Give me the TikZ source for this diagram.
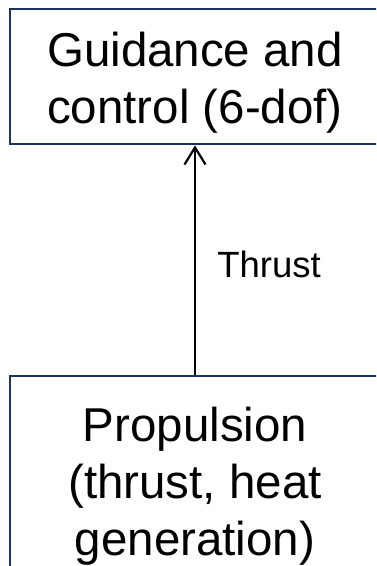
\documentclass[tikz,border=0pt]{standalone}
\usepackage{fontspec}
\setmainfont{Liberation Sans}
\usetikzlibrary{arrows.meta}
\definecolor{navy}{RGB}{28,50,96}
\tikzset{
  blockbox/.style={draw=navy, line width=2.8pt, fill=white, inner sep=0pt, minimum width=370pt},
  bigtext/.style={font=\fontsize{47.5}{57}\selectfont, align=center, inner sep=0pt},
  smalltext/.style={font=\fontsize{36.5}{42}\selectfont, inner sep=0pt},
  arr/.style={line width=2.2pt, -{Straight Barb[length=17pt,width=21pt,line width=2.2pt]}}
}
\begin{document}
\begin{tikzpicture}[x=1pt,y=-1pt]
\useasboundingbox (0,0) rectangle (376,566);
\clip (0,0) rectangle (376,566);
\fill[white] (0,0) rectangle (376,566);
\node[blockbox, minimum height=135pt] (gc) at (195,76.5) {};
\node[blockbox, minimum height=230pt] (prop) at (195,491) {};
\node[bigtext] (gctext) at (195,83) {Guidance and\\control (6-dof)};
\node[bigtext] (proptext) at (195,486) {Propulsion\\(thrust, heat\\generation)};
\draw[arr] (prop.north) -- (gc.south);
\node[smalltext, anchor=base] (thr) at (269,277) {Thrust};
\end{tikzpicture}
\end{document}
